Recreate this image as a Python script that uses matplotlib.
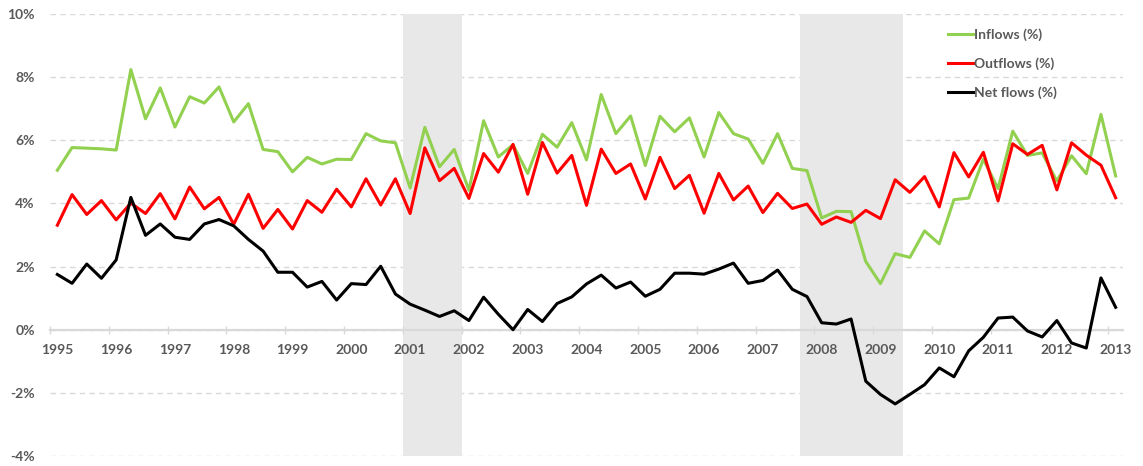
import numpy as np
from matplotlib import pyplot as plt
from matplotlib.ticker import FuncFormatter

years = list(range(1995, 2014))

inflows = [5.05, 5.77, 5.75, 5.73, 5.69, 8.24, 6.68, 7.66, 6.42, 7.38, 7.18, 7.69, 6.58, 7.16, 5.71, 5.64,
           5.00, 5.46, 5.25, 5.40, 5.39, 6.21, 5.98, 5.92, 4.49, 6.41, 5.16, 5.71, 4.42, 6.62, 5.47, 5.86,
           4.95, 6.19, 5.78, 6.56, 5.38, 7.45, 6.21, 6.77, 5.20, 6.76, 6.27, 6.71, 5.47, 6.88, 6.21, 6.04,
           5.27, 6.21, 5.11, 5.04, 3.54, 3.75, 3.74, 2.16, 1.46, 2.41, 2.29, 3.13, 2.72, 4.12, 4.17, 5.40,
           4.47, 6.29, 5.52, 5.60, 4.71, 5.51, 4.94, 6.82, 4.87]
outflows = [3.31, 4.28, 3.65, 4.09, 3.48, 4.01, 3.68, 4.31, 3.51, 4.52, 3.83, 4.19, 3.34, 4.29, 3.21, 3.81,
            3.19, 4.09, 3.72, 4.45, 3.89, 4.78, 3.95, 4.78, 3.68, 5.76, 4.72, 5.11, 4.16, 5.58, 4.99, 5.87,
            4.29, 5.93, 4.96, 5.52, 3.94, 5.72, 4.95, 5.25, 4.14, 5.46, 4.47, 4.89, 3.69, 4.95, 4.11, 4.55,
            3.71, 4.32, 3.84, 3.98, 3.34, 3.57, 3.40, 3.78, 3.52, 4.75, 4.35, 4.85, 3.89, 5.61, 4.84, 5.62,
            4.08, 5.89, 5.55, 5.84, 4.43, 5.92, 5.53, 5.21, 4.18]
netflows = [1.75, 1.47, 2.08, 1.63, 2.21, 4.19, 2.99, 3.35, 2.93, 2.86, 3.35, 3.49, 3.29, 2.86, 2.49, 1.82,
            1.82, 1.35, 1.53, 0.94, 1.46, 1.43, 2.01, 1.13, 0.81, 0.62, 0.42, 0.60, 0.29, 1.03, 0.49, 0.00,
            0.64, 0.26, 0.83, 1.04, 1.45, 1.73, 1.32, 1.51, 1.06, 1.28, 1.79, 1.79, 1.76, 1.92, 2.11, 1.47,
            1.56, 1.89, 1.28, 1.05, 0.22, 0.18, 0.34, -1.63, -2.05, -2.35, -2.05, -1.74, -1.21, -1.49, -0.67, -0.24,
            0.37, 0.40, -0.04, -0.23, 0.29, -0.42, -0.58, 1.64, 0.71]

# recessions as (first quarter, last quarter) indices from 1995Q1
recessions = [(24, 27), (51, 57)]

grey = "#595959"
plt.rcParams["font.family"] = ["Lato", "DejaVu Sans"]

fig = plt.figure(figsize=(11.43, 4.66), dpi=100)
ax = fig.add_axes([50/1143, 10/466, 1073/1143, 442/466])

q = np.arange(len(inflows))
for a, b in recessions:
    ax.axvspan(a-0.5, b+0.5, color="#e8e8e8", lw=0, zorder=1)

ax.plot(q, inflows, color="#92D050", lw=2.2, label="Inflows (%)", zorder=3)
ax.plot(q, outflows, color="#FF0000", lw=2.2, label="Outflows (%)", zorder=3)
ax.plot(q, netflows, color="black", lw=2.2, label="Net flows (%)", zorder=3)

ax.set_xlim(-0.5, len(q)-0.5)
ax.set_ylim(-4, 10)
ax.set_yticks(np.arange(-4, 11, 2))
ax.yaxis.set_major_formatter(FuncFormatter(lambda v, p: "%d%%" % v))
ax.grid(axis="y", color="#d9d9d9", ls=(0, (4, 3)), lw=1)
ax.set_axisbelow(True)
ax.xaxis.set_zorder(2.5)

for s in ["top", "right", "left"]:
    ax.spines[s].set_visible(False)
ax.spines["bottom"].set_position(("data", 0))
ax.spines["bottom"].set_color("#d9d9d9")
ax.spines["bottom"].set_linewidth(1.6)
ax.spines["bottom"].set_zorder(2)

ax.set_xticks(np.arange(-0.5, len(q), 4))
ax.set_xticklabels([])
ax.set_xticks(np.arange(0, len(q), 4), minor=True)
ax.set_xticklabels([str(y) for y in years], minor=True)
ax.tick_params(axis="x", which="major", direction="inout", length=6, width=1, color="#d9d9d9")
ax.tick_params(axis="x", which="minor", length=0, pad=10, labelsize=10, labelcolor=grey)
ax.tick_params(axis="y", length=0, pad=11, labelsize=10, labelcolor=grey)
for t in ax.get_xticklabels(minor=True) + ax.get_yticklabels():
    t.set_fontweight("bold")

leg = ax.legend(loc="upper left", bbox_to_anchor=(948/1143, 1-28/466), bbox_transform=fig.transFigure,
                frameon=False, borderpad=0, borderaxespad=0, handlelength=1.8, handletextpad=0.1,
                labelspacing=1.2, prop={"size": 10, "weight": "bold"})
for t in leg.get_texts():
    t.set_color(grey)

plt.savefig("out.png")
